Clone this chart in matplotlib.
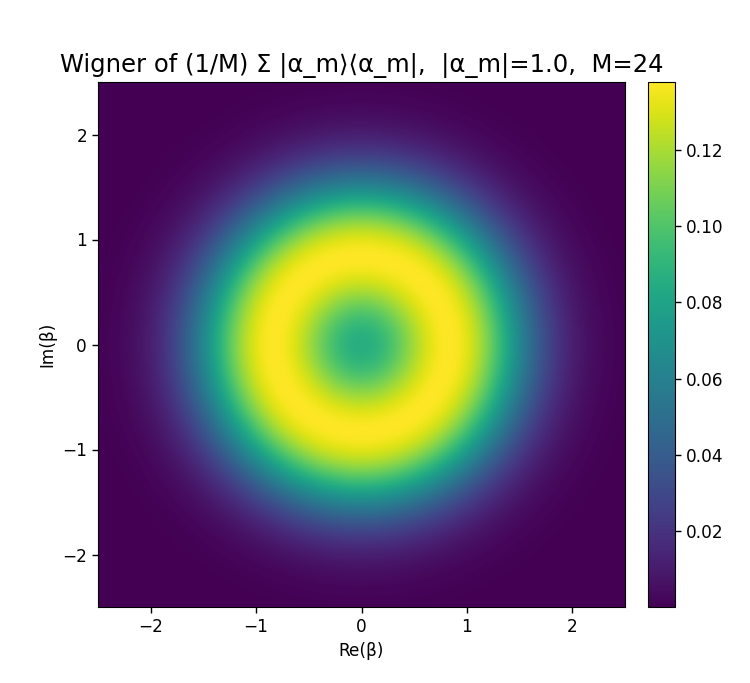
import numpy as np
import matplotlib
matplotlib.use("Agg")
import matplotlib.pyplot as plt

alpha_abs = 1.0
M = 24
extent_lim = 2.5
N = 400

x = np.linspace(-extent_lim, extent_lim, N)
X, Y = np.meshgrid(x, x)
B = X + 1j * Y
alphas = alpha_abs * np.exp(2j * np.pi * np.arange(M) / M)
W = np.zeros_like(X)
for a in alphas:
    W += (2 / np.pi) * np.exp(-2 * np.abs(B - a) ** 2)
W /= M

fig = plt.figure(figsize=(7.5, 6.83), dpi=100)
ax = fig.add_axes([98/750, 1-607/683, (625-98)/750, (607-82)/683])
cax = fig.add_axes([648/750, 1-607/683, (675-648)/750, (607-82)/683])
im = ax.imshow(W, origin="lower", extent=[-extent_lim, extent_lim, -extent_lim, extent_lim],
               cmap="viridis", aspect="auto")
fig.colorbar(im, cax=cax)
for a in (ax, cax):
    a.tick_params(labelsize=12.2, length=4.4, width=1)
ax.set_xlabel("Re(β)", fontsize=12.2)
ax.set_ylabel("Im(β)", fontsize=12.2)
ax.set_title("Wigner of (1/M) Σ |α_m⟩⟨α_m|,  |α_m|=1.0,  M=24", fontsize=17.5, pad=7)
fig.savefig("out.png", dpi=100)
